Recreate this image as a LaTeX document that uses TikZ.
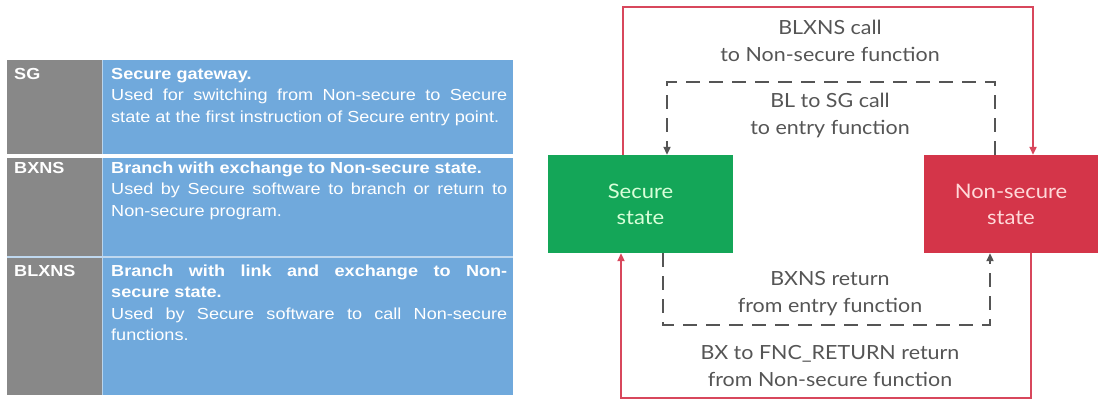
\documentclass[tikz,border=0pt]{standalone}
\usepackage{fontspec}
\setmainfont{Liberation Sans}
\newfontfamily\tabfont[FakeStretch=1.13]{Liberation Sans}
\newfontfamily\gillfont[FakeStretch=1.1]{Lato}
\usetikzlibrary{arrows.meta,positioning}

\definecolor{cellgray}{HTML}{888888}
\definecolor{cellblue}{HTML}{70A9DC}
\definecolor{securegreen}{HTML}{14A658}
\definecolor{nsred}{HTML}{D43549}
\definecolor{wirered}{HTML}{D8475C}
\definecolor{labelgray}{HTML}{555555}

\hyphenpenalty=10000

\tikzset{
  opcode/.style={anchor=base west, inner sep=0pt, text=white,
    font=\tabfont\bfseries\fontsize{16}{21.5}\selectfont},
  descr/.style={anchor=base west, inner sep=0pt, text=white, text width=396pt,
    align=justify, font=\tabfont\fontsize{16}{21.5}\selectfont},
  statebox/.style={minimum height=98pt, inner sep=0pt, align=center,
    font=\gillfont\fontsize{20}{26}\selectfont},
  flowlabel/.style={align=center, text=labelgray,
    font=\gillfont\fontsize{19.5}{27}\selectfont},
  redwire/.style={draw=wirered, line width=2pt, -{Triangle[length=8pt,width=7pt]}},
  dashwire/.style={draw=labelgray, line width=2pt, dash pattern=on 14pt off 9pt,
    -{Triangle[length=8pt,width=7pt]}},
}

\begin{document}
\begin{tikzpicture}[x=1pt,y=-1pt]
    \useasboundingbox (0,0) rectangle (1105,400);

    % instruction table
    \fill[cellgray] (7,60) rectangle (102,395);
    \fill[cellblue] (103,60) rectangle (513,395);
    \draw[white!50!cellblue, line width=1pt] (102.5,60) -- (102.5,395);
    \draw[white, line width=4pt] (7,156) -- (515,156);
    \draw[white!55!cellblue, line width=1.2pt] (7,257) -- (513,257);

    \node[opcode] (sg) at (14,79) {SG};
    \node[descr] (sgtext) at (111,79) {\textbf{Secure gateway.}\\
      Used for switching from Non-secure to Secure state at the first instruction of Secure entry point.};
    \node[opcode] (bxns) at (14,173) {BXNS};
    \node[descr] (bxnstext) at (111,173) {\textbf{Branch with exchange to Non-secure state.}\\
      Used by Secure software to branch or return to Non-secure program.};
    \node[opcode] (blxns) at (14,276) {BLXNS};
    \node[descr] (blxnstext) at (111,276) {\textbf{Branch with link and exchange to Non-\linebreak secure state.}\\
      Used by Secure software to call Non-secure functions.};

    % state boxes
    \node[statebox, fill=securegreen, text=green!15!white, minimum width=185pt]
      (sec) at (640.5,204) {Secure\\state};
    \node[statebox, fill=nsred, text=red!15!white, minimum width=174pt]
      (nsec) at (1011,204) {Non-secure\\state};

    \coordinate (rtop) at (828,7);
    \coordinate (dtop) at (828,82);
    \coordinate (dbot) at (828,325);
    \coordinate (rbot) at (828,398);

    % transitions
    \draw[redwire] ([xshift=-17.5pt]sec.north) |- (rtop) -| ([xshift=22pt]nsec.north);
    \draw[dashwire] ([xshift=-16pt]nsec.north) |- (dtop) -| ([xshift=26.5pt]sec.north);
    \draw[dashwire] ([xshift=22.5pt]sec.south) |- (dbot) -| ([xshift=-21pt]nsec.south);
    \draw[redwire] ([xshift=20pt]nsec.south) |- (rbot) -| ([xshift=-19.5pt]sec.south);

    \node[flowlabel] (lblxns) at (830,41) {BLXNS call\\to Non-secure function};
    \node[flowlabel] (lblsg) at (830,115) {BL to SG call\\to entry function};
    \node[flowlabel] (lbxns) at (830,293.5) {BXNS return\\from entry function};
    \node[flowlabel] (lbxret) at (830,366.5) {BX to FNC\_RETURN return\\from Non-secure function};
\end{tikzpicture}
\end{document}
